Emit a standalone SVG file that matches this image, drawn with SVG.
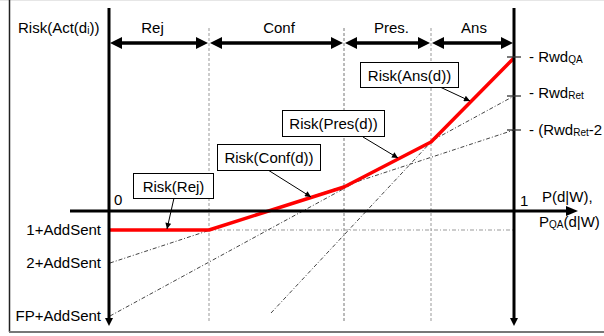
<svg xmlns="http://www.w3.org/2000/svg" width="604" height="336" viewBox="0 0 604 336">
<style>
text{font-family:"Liberation Sans",Arial,sans-serif;font-size:15px;fill:#000}
.sub{font-size:10px}
.mid{text-anchor:middle}
.end{text-anchor:end}
.axis{stroke:#000;stroke-width:3;fill:none}
.phase{stroke:#000;stroke-width:3.5;fill:none}
.guide{stroke:#999;stroke-width:1;stroke-dasharray:3,2;fill:none}
.dd{stroke:#444;stroke-width:1;stroke-dasharray:4,2,1,2;fill:none}
.ddg{stroke:#999;stroke-width:1.2;stroke-dasharray:4,2,1,2;fill:none}
.risk{stroke:#f00;stroke-width:3.5;fill:none;stroke-linejoin:round}
.box{fill:#fff;stroke:#000;stroke-width:1}
.ptr{stroke:#000;stroke-width:1;fill:none}
.tick{stroke:#333;stroke-width:1.3}
.head{fill:#000}
</style>
<defs>
<marker id="ah" viewBox="0 0 10 10" refX="10" refY="5" markerWidth="8" markerHeight="6" markerUnits="userSpaceOnUse" orient="auto"><path d="M0,0 L10,5 L0,10 z" fill="#000"/></marker>
</defs>
<g id="frame">
<line x1="0" y1="0.5" x2="604" y2="0.5" stroke="#e6e6e6" stroke-width="1"/>
<line x1="9.5" y1="0" x2="9.5" y2="332" stroke="#222" stroke-width="1.5"/>
<line x1="9" y1="332" x2="604" y2="332" stroke="#777" stroke-width="2"/>
</g>
<g id="guides">
<line class="guide" x1="209" y1="28" x2="209" y2="323"/>
<line class="guide" x1="344" y1="28" x2="344" y2="323" style="stroke:#777"/>
<line class="guide" x1="431" y1="28" x2="431" y2="323"/>
</g>
<g id="connectors">
<line class="ddg" x1="209" y1="230" x2="514" y2="230"/>
<line class="dd" x1="110" y1="263" x2="514" y2="130"/>
<line class="dd" x1="110" y1="316" x2="514" y2="96"/>
<line class="dd" x1="271" y1="313" x2="431" y2="142"/>
<polyline class="risk" points="109,230 209,230 344,187 431,142 514,58"/>
<line class="ptr" x1="174" y1="198" x2="167" y2="229" marker-end="url(#ah)"/>
<line class="ptr" x1="268" y1="170" x2="311" y2="197" marker-end="url(#ah)"/>
<line class="ptr" x1="363" y1="137" x2="398" y2="158" marker-end="url(#ah)"/>
<line class="ptr" x1="440" y1="87" x2="470" y2="101" marker-end="url(#ah)"/>
</g>
<g id="axes">
<line class="axis" x1="109" y1="8" x2="109" y2="319"/>
<polygon class="head" points="105,318 113,318 109,326"/>
<line class="axis" x1="514" y1="8" x2="514" y2="319"/>
<polygon class="head" points="510,318 518,318 514,326"/>
<line class="axis" x1="70" y1="211" x2="567" y2="211"/>
<polygon class="head" points="566,206 566,216 578,211"/>
<line class="tick" x1="507" y1="57" x2="521" y2="57"/>
<line class="tick" x1="507" y1="96" x2="521" y2="96"/>
<line class="tick" x1="507" y1="130" x2="521" y2="130"/>
</g>
<g id="phase-arrows">
<line class="phase" x1="118" y1="43" x2="200" y2="43"/>
<polygon class="head" points="110,43 122,37 122,49"/>
<polygon class="head" points="208,43 196,37 196,49"/>
<line class="phase" x1="218" y1="43" x2="335" y2="43"/>
<polygon class="head" points="210,43 222,37 222,49"/>
<polygon class="head" points="343,43 331,37 331,49"/>
<line class="phase" x1="353" y1="43" x2="422" y2="43"/>
<polygon class="head" points="345,43 357,37 357,49"/>
<polygon class="head" points="430,43 418,37 418,49"/>
<line class="phase" x1="440" y1="43" x2="505" y2="43"/>
<polygon class="head" points="432,43 444,37 444,49"/>
<polygon class="head" points="513,43 501,37 501,49"/>
</g>
<g id="labels">
<text x="18" y="33">Risk(Act(d<tspan class="sub" dy="1">i</tspan><tspan dy="-1">))</tspan></text>
<text class="mid" x="152.5" y="33">Rej</text>
<text class="mid" x="279" y="33">Conf</text>
<text class="mid" x="391.5" y="33">Pres.</text>
<text class="mid" x="474" y="33">Ans</text>
<text x="114" y="205">0</text>
<text x="520" y="206">1</text>
<text x="542" y="202">P(d|W),</text>
<text x="539" y="227">P<tspan class="sub" dy="1">QA</tspan><tspan dy="-1">(d|W)</tspan></text>
<text class="end" x="101" y="235">1+AddSent</text>
<text class="end" x="101" y="268">2+AddSent</text>
<text class="end" x="101" y="321">FP+AddSent</text>
<text x="529" y="62">- Rwd<tspan class="sub" dy="1">QA</tspan></text>
<text x="529" y="98">- Rwd<tspan class="sub" dy="1">Ret</tspan></text>
<text x="529" y="135">- (Rwd<tspan class="sub" dy="1">Ret</tspan><tspan dy="-1">-2</tspan></text>
</g>
<g id="node-rej">
<rect class="box" x="133.5" y="173.5" width="80" height="25"/>
<text class="mid" x="173.5" y="192">Risk(Rej)</text>
</g>
<g id="node-conf">
<rect class="box" x="217.5" y="144.5" width="103" height="26"/>
<text class="mid" x="269" y="163">Risk(Conf(d))</text>
</g>
<g id="node-pres">
<rect class="box" x="282.5" y="110.5" width="102" height="26"/>
<text class="mid" x="333.5" y="129">Risk(Pres(d))</text>
</g>
<g id="node-ans">
<rect class="box" x="360.5" y="62.5" width="98" height="25"/>
<text class="mid" x="409.5" y="81">Risk(Ans(d))</text>
</g>
</svg>
